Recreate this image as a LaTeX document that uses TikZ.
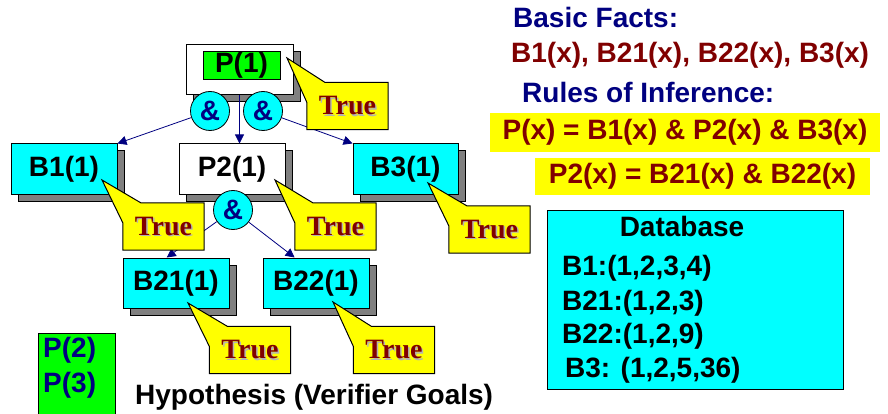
\documentclass[tikz,border=0pt]{standalone}
\usepackage{fontspec}
\setmainfont{Liberation Sans}
\newfontfamily\truefont{Liberation Serif}
\usetikzlibrary{arrows.meta,positioning,calc,shadows}
\definecolor{NavyInk}{HTML}{000080}
\definecolor{MaroonInk}{HTML}{800000}
\definecolor{FactCyan}{HTML}{00FFFF}
\definecolor{GoalGreen}{HTML}{00FF00}
\definecolor{NoteYellow}{HTML}{FFFF00}
\definecolor{ShadowGray}{HTML}{808080}

% yellow "True" balloon: name, centre, tip
\newcommand\trueballoon[3]{%
  \node[saybox] (#1) at (#2) {};
  \filldraw[sayedge] (#3) -- ([xshift=18pt]#1.north west) -- (#1.north east)
    -- (#1.south east) -- (#1.south west) -- ([yshift=-20pt]#1.north west) -- cycle;
  \node[saytext,text=ShadowGray!60] (#1s) at ([xshift=1.5pt,yshift=-1.5pt]#1.center) {True};
  \node[saytext] (#1t) at (#1.center) {True};
}

\begin{document}
\begin{tikzpicture}[x=1pt,y=-1pt,
  font=\fontsize{28}{30}\selectfont\bfseries,
  goal/.style={draw,line width=1pt,inner sep=0pt,minimum width=106pt,minimum height=50pt,
    drop shadow={shadow xshift=7pt,shadow yshift=-7pt,fill=ShadowGray,draw=black,opacity=1}},
  fact/.style={goal,fill=FactCyan},
  andnode/.style={circle,draw,line width=0.8pt,fill=FactCyan,text=NavyInk,inner sep=0pt,minimum size=39pt},
  link/.style={-{Triangle[length=9pt,width=9pt]},line width=0.8pt,NavyInk},
  saybox/.style={inner sep=0pt,minimum width=81pt,minimum height=47pt},
  sayedge/.style={draw=black,fill=NoteYellow,line width=1pt,line join=miter},
  saytext/.style={font=\fontsize{28}{30}\selectfont\truefont\bfseries,text=MaroonInk,inner sep=0pt},
  rulebar/.style={fill=NoteYellow,text=MaroonInk,inner sep=0pt}]
  \useasboundingbox (0,0) rectangle (888,414);

  % proof tree
  \node[goal,fill=white,minimum width=107pt] (p1box) at (239.5,70) {};
  \node[draw,fill=GoalGreen,line width=0.8pt,inner sep=0pt,minimum width=77pt,minimum height=28pt] (p1) at (241.5,65) {P(1)};
  \node[fact] (b1) at (64,169) {B1(1)};
  \node[goal,fill=white] (p2) at (232,169) {P2(1)};
  \node[fact,minimum width=105pt] (b3) at (405.5,169) {B3(1)};
  \node[fact] (b21) at (176,283) {B21(1)};
  \node[fact] (b22) at (316,283) {B22(1)};

  \draw[link] (p1box.south) -- (p1box.south |- p2.north);
  \node[andnode] (and1) at (210,111) {\&};
  \node[andnode] (and2) at (263,111) {\&};
  \node[andnode] (and3) at (233,210) {\&};
  \draw[link] (and1) -- (b1.north east);
  \draw[link] (and2) -- (b3.north west);
  \draw[link] (and3) -- (b21.110);
  \draw[link] (and3) -- (b22.130);

  % verdicts
  \trueballoon{tp1}{347.5,106}{$(p1)+(45.5,-7)$}
  \trueballoon{tb1}{163.5,226.5}{$(b1)+(38,11)$}
  \trueballoon{tp2}{335.5,226.5}{$(p2)+(43,11)$}
  \trueballoon{tb3}{489.5,229.5}{$(b3)+(22.5,14)$}
  \trueballoon{tb21}{250,350}{$(b21)+(12,20)$}
  \trueballoon{tb22}{394,350}{$(b22)+(17,19)$}

  % facts and rules
  \node[anchor=base west,text=NavyInk,inner sep=0pt] (facthead) at (513,28) {Basic Facts:};
  \node[anchor=base west,text=MaroonInk,inner sep=0pt] (factlist) at (511,63) {B1(x), B21(x), B22(x), B3(x)};
  \node[anchor=base west,text=NavyInk,inner sep=0pt] (rulehead) at (522,103) {Rules of Inference:};
  \node[rulebar,minimum width=390pt,minimum height=39pt] (rule1) at (685,132.5) {P(x) = B1(x) \& P2(x) \& B3(x)};
  \node[rulebar,minimum width=335pt,minimum height=37pt] (rule2) at (702.5,176.5) {P2(x) = B21(x) \& B22(x)};

  % database
  \node[draw,fill=FactCyan,line width=1pt,minimum width=296pt,minimum height=179pt] (db) at (695,299.5) {};
  \node[anchor=base,inner sep=0pt] (dbhead) at (682,236) {Database};
  \node[anchor=base west,inner sep=0pt] (dbb1) at (562,275) {B1:(1,2,3,4)};
  \node[anchor=base west,inner sep=0pt] (dbb21) at (562,310) {B21:(1,2,3)};
  \node[anchor=base west,inner sep=0pt] (dbb22) at (562,343) {B22:(1,2,9)};
  \node[anchor=base west,inner sep=0pt] (dbb3) at (565,377) {B3: (1,2,5,36)};

  % hypotheses
  \filldraw[fill=GoalGreen,draw=black,line width=1pt] (38,414) |- (115,333) -- (115,414);
  \node[anchor=base west,text=NavyInk,inner sep=0pt] (hyp2) at (43,357) {P(2)};
  \node[anchor=base west,text=NavyInk,inner sep=0pt] (hyp3) at (43,392) {P(3)};
  \node[anchor=base west,inner sep=0pt] (hyplabel) at (135,404) {Hypothesis (Verifier Goals)};
\end{tikzpicture}
\end{document}
